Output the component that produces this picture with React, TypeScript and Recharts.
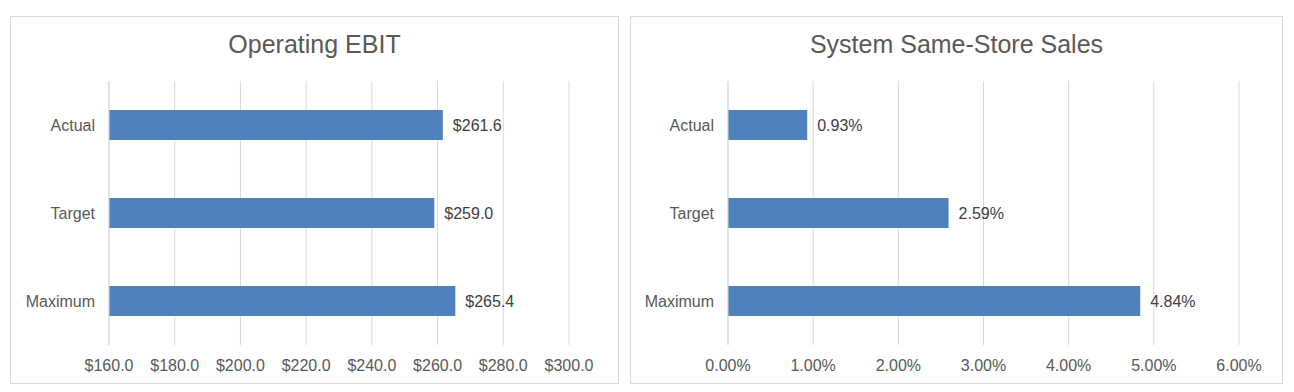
import React from 'react'
import { BarChart, Bar, XAxis, YAxis, CartesianGrid, LabelList } from 'recharts'

const categories = ['Actual', 'Target', 'Maximum']
const ebitValues = [261.6, 259.0, 265.4]
const ebitTicks = [160, 180, 200, 220, 240, 260, 280, 300]
const sssValues = [0.93, 2.59, 4.84]
const sssTicks = [0, 1, 2, 3, 4, 5, 6]

const FONT = '"Liberation Sans", Arial, sans-serif'
const BAR_COLOR = '#4F81BD'
const GRID = '#d9d9d9'

interface PanelProps {
  title: string
  values: number[]
  ticks: number[]
  left: number
  width: number
  axisWidth: number
  rightMargin: number
  fmtTick: (v: number) => string
  fmtLabel: (v: number) => string
}

function Panel({ title, values, ticks, left, width, axisWidth, rightMargin, fmtTick, fmtLabel }: PanelProps) {
  const data = categories.map((name, i) => ({ name, value: values[i] }))
  const height = 368
  return (
    <div
      style={{
        position: 'absolute',
        left,
        top: 16,
        width: width - 2,
        height: height - 2,
        border: `1px solid ${GRID}`,
        background: '#fff'
      }}
    >
      <div
        style={{
          position: 'absolute',
          top: 13,
          left: 0,
          width: '100%',
          textAlign: 'center',
          fontSize: 25,
          color: '#595959',
          fontFamily: FONT
        }}
      >
        {title}
      </div>
      <BarChart
        width={width - 2}
        height={height - 2}
        data={data}
        layout="vertical"
        margin={{ top: 64, right: rightMargin, bottom: 0, left: 0 }}
        style={{ position: 'absolute', left: 0, top: 0 }}
      >
        <CartesianGrid horizontal={false} stroke={GRID} />
        <XAxis
          type="number"
          domain={[ticks[0], ticks[ticks.length - 1]]}
          ticks={ticks}
          tickFormatter={fmtTick}
          axisLine={false}
          tickLine={false}
          tickSize={0}
          tickMargin={15}
          height={38}
          interval={0}
          tick={{ fill: '#595959', fontSize: 16, fontFamily: FONT }}
        />
        <YAxis
          type="category"
          dataKey="name"
          width={axisWidth}
          axisLine={{ stroke: GRID }}
          tickLine={false}
          tickSize={0}
          tickMargin={14}
          tick={{ fill: '#595959', fontSize: 16, fontFamily: FONT }}
        />
        <Bar dataKey="value" fill={BAR_COLOR} barSize={30} isAnimationActive={false}>
          <LabelList
            dataKey="value"
            position="right"
            offset={10}
            formatter={(v: any) => fmtLabel(Number(v))}
            style={{ fill: '#404040', fontSize: 16, fontFamily: FONT }}
          />
        </Bar>
      </BarChart>
    </div>
  )
}

export default function App() {
  return (
    <div
      style={{
        position: 'absolute',
        left: 0,
        top: 0,
        width: 1294,
        height: 392,
        background: '#fff',
        overflow: 'hidden'
      }}
    >
      <Panel
        title="Operating EBIT"
        values={ebitValues}
        ticks={ebitTicks}
        left={10}
        width={609}
        axisWidth={98}
        rightMargin={49}
        fmtTick={(v) => `$${v.toFixed(1)}`}
        fmtLabel={(v) => `$${v.toFixed(1)}`}
      />
      <Panel
        title="System Same-Store Sales"
        values={sssValues}
        ticks={sssTicks}
        left={630}
        width={653}
        axisWidth={97}
        rightMargin={43}
        fmtTick={(v) => `${v.toFixed(2)}%`}
        fmtLabel={(v) => `${v.toFixed(2)}%`}
      />
    </div>
  )
}
